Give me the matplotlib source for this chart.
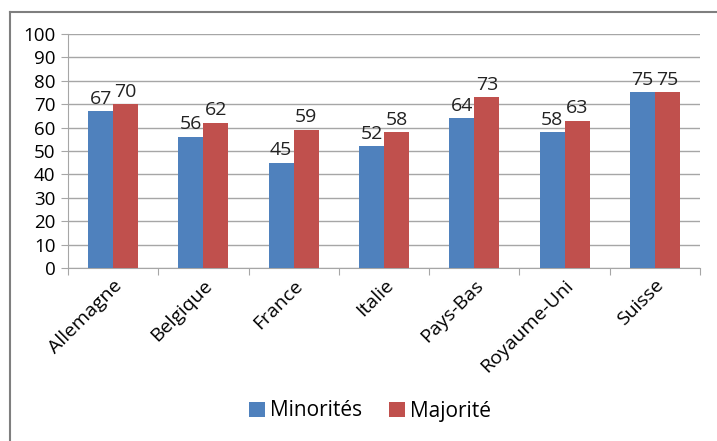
import numpy as np
import matplotlib.pyplot as plt
from matplotlib.lines import Line2D

pays = ["Allemagne", "Belgique", "France", "Italie", "Pays-Bas", "Royaume-Uni", "Suisse"]
minorites = [67, 56, 45, 52, 64, 58, 75]
majorite = [70, 62, 59, 58, 73, 63, 75]

plt.rcParams['font.family'] = ['Open Sans', 'DejaVu Sans']

fig = plt.figure(figsize=(7.17, 4.41), dpi=100)
ax = fig.add_axes([68 / 717, 1 - 268 / 441, (700 - 68) / 717, (268 - 34) / 441])

x = np.arange(len(pays))
w = 0.277
b1 = ax.bar(x - w / 2, minorites, w, color="#4f81bd", label="Minorités", zorder=3)
b2 = ax.bar(x + w / 2, majorite, w, color="#c0504d", label="Majorité", zorder=3)

for bars in (b1, b2):
    for r in bars:
        ax.text(r.get_x() + r.get_width() / 2, r.get_height() + 1.5, f"{int(r.get_height())}",
                ha="center", va="bottom", fontsize=14, color="#222222")

ax.set_xlim(-0.5, len(pays) - 0.5)
ax.set_ylim(0, 100)
ax.set_yticks(range(0, 101, 10))
ax.yaxis.grid(True, color="#a6a6a6", linewidth=1, zorder=0)
ax.tick_params(axis="y", length=5, color="#a6a6a6", labelsize=13.5, pad=4)
ax.set_xticks(np.arange(-0.5, len(pays), 1), minor=False)
ax.set_xticklabels([])
ax.set_xticks(x, minor=True)
ax.set_xticklabels(pays, minor=True, rotation=45, ha="right", rotation_mode="anchor", fontsize=14)
ax.tick_params(axis="x", which="major", length=5, color="#a6a6a6")
ax.tick_params(axis="x", which="minor", length=0, pad=6)
for s in ["top", "right"]:
    ax.spines[s].set_visible(False)
ax.spines["left"].set_color("#a6a6a6")
ax.spines["bottom"].set_color("#a6a6a6")

fig.legend(handles=[b1, b2], loc="center", bbox_to_anchor=(370 / 717, 1 - 411 / 441), ncol=2,
           frameon=False, fontsize=15, handlelength=0.75, handleheight=0.75, columnspacing=1.3,
           handletextpad=0.25)

# outer chart frame
fig.add_artist(Line2D([10 / 717, 10 / 717], [0, 1 - 12 / 441], color="#7f7f7f", lw=1.5, transform=fig.transFigure))
fig.add_artist(Line2D([10 / 717, 1], [1 - 12 / 441, 1 - 12 / 441], color="#7f7f7f", lw=1.5, transform=fig.transFigure))

fig.savefig("out.png", dpi=100)
